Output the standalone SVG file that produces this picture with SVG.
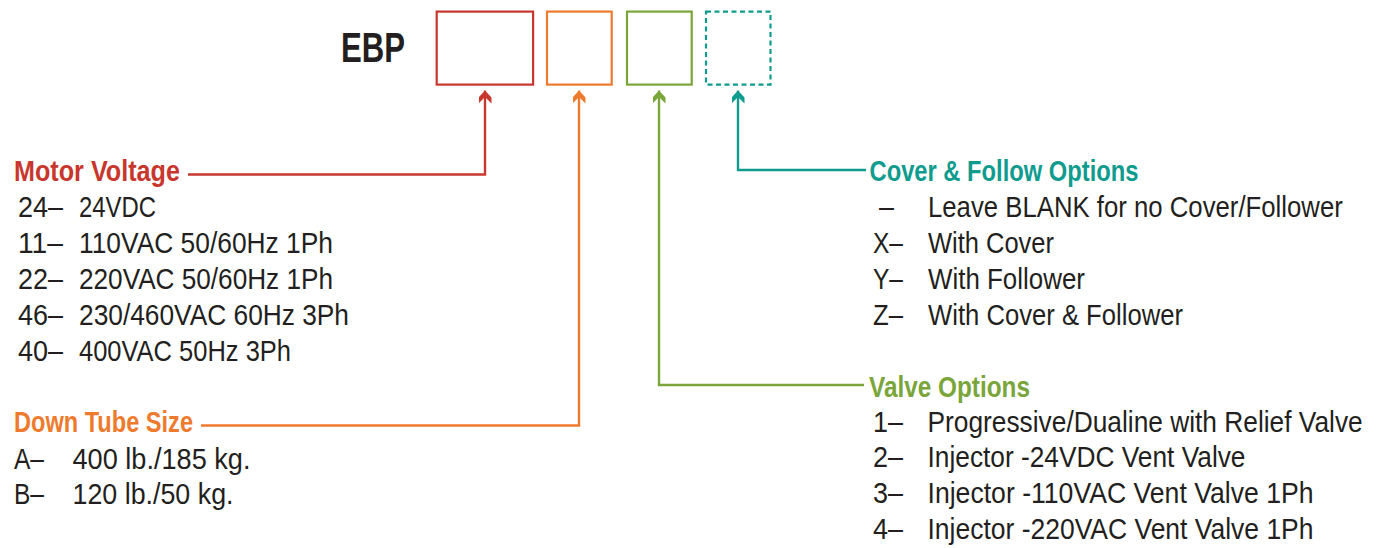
<svg xmlns="http://www.w3.org/2000/svg" width="1378" height="548" viewBox="0 0 1378 548">
<style>
text{font-family:"Liberation Sans","DejaVu Sans",sans-serif;font-size:29px;fill:#231f20}
.hd{font-weight:bold}
.ebp{font-size:43px;font-weight:bold}
.red{stroke:#c8372d;fill:#c8372d}
.org{stroke:#ee7a2d;fill:#ee7a2d}
.grn{stroke:#7aa53a;fill:#7aa53a}
.tel{stroke:#0f9b8e;fill:#0f9b8e}
.box{fill:#fff;stroke-width:2.2}
.dash{stroke-dasharray:5 3.5}
.con{fill:none;stroke-width:2.4}
text.red,text.org,text.grn,text.tel{stroke:none}
</style>
<defs>
<marker id="ahR" markerUnits="userSpaceOnUse" viewBox="0 0 13 13" markerWidth="13" markerHeight="13" refX="13" refY="6.5" orient="auto-start-reverse"><path d="M13 6.5 L6 13 L0 13 L6.5 6.5 L0 0 L6 0 Z" fill="#c8372d"/></marker>
<marker id="ahO" markerUnits="userSpaceOnUse" viewBox="0 0 13 13" markerWidth="13" markerHeight="13" refX="13" refY="6.5" orient="auto-start-reverse"><path d="M13 6.5 L6 13 L0 13 L6.5 6.5 L0 0 L6 0 Z" fill="#ee7a2d"/></marker>
<marker id="ahG" markerUnits="userSpaceOnUse" viewBox="0 0 13 13" markerWidth="13" markerHeight="13" refX="13" refY="6.5" orient="auto-start-reverse"><path d="M13 6.5 L6 13 L0 13 L6.5 6.5 L0 0 L6 0 Z" fill="#7aa53a"/></marker>
<marker id="ahT" markerUnits="userSpaceOnUse" viewBox="0 0 13 13" markerWidth="13" markerHeight="13" refX="13" refY="6.5" orient="auto-start-reverse"><path d="M13 6.5 L6 13 L0 13 L6.5 6.5 L0 0 L6 0 Z" fill="#0f9b8e"/></marker>
</defs>
<rect width="1378" height="548" fill="#fff"/>

<g id="code">
<text class="ebp" x="341" y="62" textLength="64" lengthAdjust="spacingAndGlyphs">EBP</text>
<rect class="box red" x="436.7" y="11.6" width="96.4" height="73"/>
<rect class="box org" x="547" y="11.6" width="64.7" height="73"/>
<rect class="box grn" x="627" y="11.6" width="64.7" height="73"/>
<rect class="box tel dash" x="706" y="11.6" width="64.5" height="73"/>
</g>

<g id="connectors">
<path class="con red" d="M485 90.5 V174.5 H188" marker-start="url(#ahR)"/>
<path class="con org" d="M579 90.5 V425.5 H201" marker-start="url(#ahO)"/>
<path class="con grn" d="M659 90.5 V385 H864" marker-start="url(#ahG)"/>
<path class="con tel" d="M738 90.5 V170 H866" marker-start="url(#ahT)"/>
</g>

<g id="motor-voltage">
<text class="hd red" x="14" y="181" textLength="166" lengthAdjust="spacingAndGlyphs">Motor Voltage</text>
<text x="18" y="217" textLength="45" lengthAdjust="spacingAndGlyphs">24–</text>
<text x="79" y="217" textLength="77" lengthAdjust="spacingAndGlyphs">24VDC</text>
<text x="18" y="253" textLength="45" lengthAdjust="spacingAndGlyphs">11–</text>
<text x="79" y="253" textLength="254" lengthAdjust="spacingAndGlyphs">110VAC 50/60Hz 1Ph</text>
<text x="18" y="289" textLength="45" lengthAdjust="spacingAndGlyphs">22–</text>
<text x="79" y="289" textLength="254" lengthAdjust="spacingAndGlyphs">220VAC 50/60Hz 1Ph</text>
<text x="18" y="325" textLength="45" lengthAdjust="spacingAndGlyphs">46–</text>
<text x="79" y="325" textLength="270" lengthAdjust="spacingAndGlyphs">230/460VAC 60Hz 3Ph</text>
<text x="18" y="361" textLength="45" lengthAdjust="spacingAndGlyphs">40–</text>
<text x="79" y="361" textLength="212" lengthAdjust="spacingAndGlyphs">400VAC 50Hz 3Ph</text>
</g>

<g id="down-tube-size">
<text class="hd org" x="14" y="432" textLength="179" lengthAdjust="spacingAndGlyphs">Down Tube Size</text>
<text x="14" y="469" textLength="30" lengthAdjust="spacingAndGlyphs">A–</text>
<text x="72.5" y="469" textLength="178" lengthAdjust="spacingAndGlyphs">400 lb./185 kg.</text>
<text x="14" y="504" textLength="30" lengthAdjust="spacingAndGlyphs">B–</text>
<text x="72.5" y="504" textLength="161" lengthAdjust="spacingAndGlyphs">120 lb./50 kg.</text>
</g>

<g id="cover-follow-options">
<text class="hd tel" x="869.5" y="181" textLength="269" lengthAdjust="spacingAndGlyphs">Cover &amp; Follow Options</text>
<text x="879" y="217" textLength="15" lengthAdjust="spacingAndGlyphs">–</text>
<text transform="matrix(0.85 0 0 1 928 217)" x="0" y="0" textLength="488" lengthAdjust="spacingAndGlyphs">Leave BLANK for no Cover/Follower</text>
<text x="873" y="253" textLength="30" lengthAdjust="spacingAndGlyphs">X–</text>
<text x="928" y="253" textLength="126" lengthAdjust="spacingAndGlyphs">With Cover</text>
<text x="873" y="289" textLength="30" lengthAdjust="spacingAndGlyphs">Y–</text>
<text x="928" y="289" textLength="157" lengthAdjust="spacingAndGlyphs">With Follower</text>
<text x="873" y="325" textLength="30" lengthAdjust="spacingAndGlyphs">Z–</text>
<text x="928" y="325" textLength="255" lengthAdjust="spacingAndGlyphs">With Cover &amp; Follower</text>
</g>

<g id="valve-options">
<text class="hd grn" x="869" y="397" textLength="161" lengthAdjust="spacingAndGlyphs">Valve Options</text>
<text x="873" y="432" textLength="30" lengthAdjust="spacingAndGlyphs">1–</text>
<text transform="matrix(0.85 0 0 1 927.5 432)" x="0" y="0" textLength="512" lengthAdjust="spacingAndGlyphs">Progressive/Dualine with Relief Valve</text>
<text x="873" y="467" textLength="30" lengthAdjust="spacingAndGlyphs">2–</text>
<text x="927.5" y="467" textLength="318" lengthAdjust="spacingAndGlyphs">Injector -24VDC Vent Valve</text>
<text x="873" y="503" textLength="30" lengthAdjust="spacingAndGlyphs">3–</text>
<text x="927.5" y="503" textLength="386" lengthAdjust="spacingAndGlyphs">Injector -110VAC Vent Valve 1Ph</text>
<text x="873" y="539" textLength="30" lengthAdjust="spacingAndGlyphs">4–</text>
<text x="927.5" y="539" textLength="386" lengthAdjust="spacingAndGlyphs">Injector -220VAC Vent Valve 1Ph</text>
</g>
</svg>
